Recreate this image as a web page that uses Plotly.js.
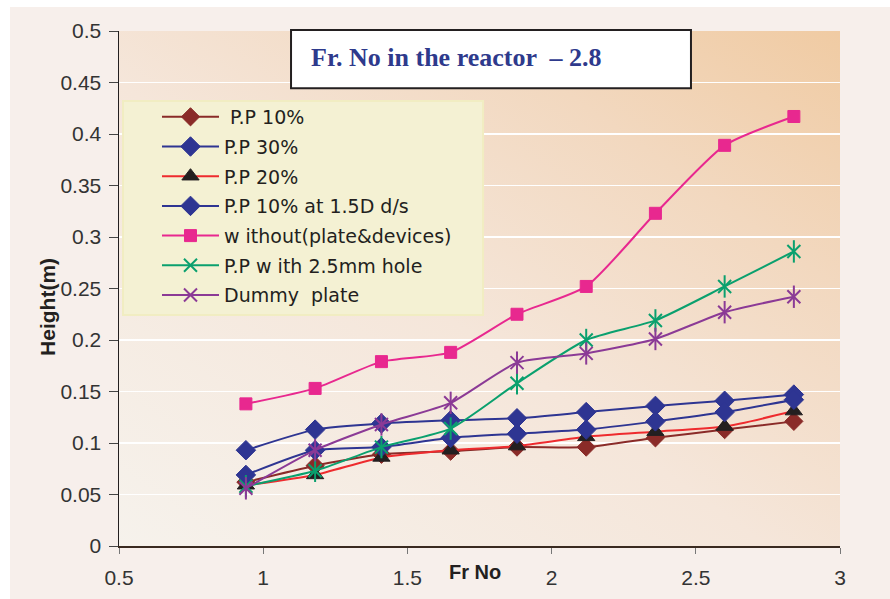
<!DOCTYPE html>
<html>
<head>
<meta charset="utf-8">
<script src="https://cdn.plot.ly/plotly-3.0.1.min.js"></script>
<style>
  html, body { margin: 0; padding: 0; background: #ffffff; }
  #wrap { position: absolute; left: 10px; top: 7px; width: 880px; height: 592px; background: #f7efeb; }
  #bg { position: absolute; left: 119px; top: 31px; width: 721px; height: 515px;
        background: linear-gradient(to top right, #f6f2ec 0%, #f5e6da 45%, #f2d8bf 75%, #f0cba3 100%); }
  #chart { position: absolute; left: 0; top: 0; width: 890px; height: 599px; }
</style>
</head>
<body>
<div id="wrap"></div>
<div id="bg"></div>
<div id="chart"></div>
<script>
const frNo = [0.94, 1.18, 1.41, 1.65, 1.88, 2.12, 2.36, 2.60, 2.84];
const pp10 = [0.062, 0.078, 0.089, 0.092, 0.096, 0.096, 0.105, 0.113, 0.121];
const pp30 = [0.093, 0.113, 0.119, 0.122, 0.124, 0.130, 0.136, 0.141, 0.147];
const pp20 = [0.059, 0.069, 0.086, 0.093, 0.097, 0.106, 0.111, 0.116, 0.131];
const pp10at15D = [0.069, 0.093, 0.096, 0.105, 0.109, 0.113, 0.121, 0.130, 0.142];
const withoutPlate = [0.138, 0.153, 0.179, 0.188, 0.225, 0.252, 0.323, 0.389, 0.417];
const ppHole = [0.058, 0.073, 0.096, 0.114, 0.158, 0.200, 0.219, 0.252, 0.286];
const dummyPlate = [0.056, 0.093, 0.118, 0.139, 0.178, 0.187, 0.201, 0.227, 0.242];

const names = [" P.P 10%", "P.P 30%", "P.P 20%", "P.P 10% at 1.5D d/s", "w ithout(plate&devices)", "P.P w ith 2.5mm hole", "Dummy  plate"];
const xTicks = [0.5, 1, 1.5, 2, 2.5, 3];
const xTickText = ["0.5", "1", "1.5", "2", "2.5", "3"];
const yTicks = [0, 0.05, 0.1, 0.15, 0.2, 0.25, 0.3, 0.35, 0.4, 0.45, 0.5];
const yTickText = ["0", "0.05", "0.1", "0.15", "0.2", "0.25", "0.3", "0.35", "0.4", "0.45", "0.5"];

function tr(name, y, lineColor, sym, mColor, mSize, extra) {
  return Object.assign({
    x: frNo, y: y, name: name, type: 'scatter', mode: 'lines+markers',
    line: { color: lineColor, width: 2, shape: 'spline', smoothing: 0.6 },
    marker: { symbol: sym, color: mColor, size: mSize, line: { color: mColor, width: 1 } },
    legendgroup: name
  }, extra || {});
}

const data = [
  tr(names[0], pp10, '#8a2b28', 'diamond', '#8a2b28', 14),
  tr(names[1], pp30, '#2e3592', 'diamond', '#2e3592', 15),
  tr(names[2], pp20, '#ee2b2e', 'triangle-up', '#231f20', 15),
  tr(names[3], pp10at15D, '#2e3592', 'diamond', '#2e3592', 15),
  tr(names[4], withoutPlate, '#e8288f', 'square', '#e8288f', 12),
  tr(names[5], ppHole, '#0aa06e', 'x-thin-open', '#0aa06e', 13, {marker: {symbol: 'x-thin-open', color: '#0aa06e', size: 13, line: {color: '#0aa06e', width: 2}}}),
  tr(names[5], ppHole, '#0aa06e', 'line-ns-open', '#0aa06e', 15, {mode: 'markers', showlegend: false, marker: {symbol: 'line-ns-open', color: '#0aa06e', size: 16, line: {color: '#0aa06e', width: 2}}}),
  tr(names[6], dummyPlate, '#8b3a96', 'x-thin-open', '#8b3a96', 13, {marker: {symbol: 'x-thin-open', color: '#8b3a96', size: 13, line: {color: '#8b3a96', width: 2}}}),
  tr(names[6], dummyPlate, '#8b3a96', 'line-ns-open', '#8b3a96', 15, {mode: 'markers', showlegend: false, marker: {symbol: 'line-ns-open', color: '#8b3a96', size: 16, line: {color: '#8b3a96', width: 2}}})
];

const layout = {
  width: 890, height: 599,
  margin: { l: 119, r: 50, t: 31, b: 53 },
  paper_bgcolor: 'rgba(0,0,0,0)',
  plot_bgcolor: 'rgba(0,0,0,0)',
  font: { family: 'Liberation Sans, Arial, sans-serif', color: '#222' },
  showlegend: true,
  legend: {
    x: 0.0527, y: 0.870, xanchor: 'left', yanchor: 'top',
    bgcolor: 'rgba(0,0,0,0)', borderwidth: 0,
    font: { size: 19, color: '#231f20', family: 'DejaVu Sans, sans-serif' },
    itemwidth: 57, tracegroupgap: 2
  },
  xaxis: {
    range: [0.5, 3], tickvals: xTicks, ticktext: xTickText,
    showgrid: false, zeroline: false,
    showline: true, linecolor: '#3a2a20', linewidth: 2,
    ticks: 'outside', ticklen: 6, tickcolor: '#777', tickwidth: 1,
    tickfont: { size: 21, color: '#333' }, ticklabelstandoff: 6
  },
  yaxis: {
    range: [0, 0.5], tickvals: yTicks, ticktext: yTickText,
    showgrid: true, gridcolor: '#ffffff', gridwidth: 1.5,
    zeroline: false,
    showline: true, linecolor: '#231f20', linewidth: 1.5,
    ticks: 'outside', ticklen: 9, tickcolor: '#444', tickwidth: 1,
    tickfont: { size: 21, color: '#333' }, ticklabelstandoff: 3
  },
  shapes: [
    { type: 'rect', xref: 'paper', yref: 'paper', x0: 0.00555, x1: 0.5049, y0: 0.4485, y1: 0.8641,
      fillcolor: '#f4f1d3', line: { color: '#f1edc2', width: 2 }, layer: 'above' },
    { type: 'rect', xref: 'paper', yref: 'paper', x0: 0.2386, x1: 0.7933, y0: 0.889, y1: 1.002,
      fillcolor: '#ffffff', line: { color: '#231f20', width: 2 }, layer: 'above' }
  ],
  annotations: [
    { text: 'Fr. No in the reactor  \u2013 2.8', xref: 'paper', yref: 'paper', x: 0.2635, y: 0.9476,
      xanchor: 'left', yanchor: 'middle', showarrow: false,
      font: { family: 'Liberation Serif, Times New Roman, serif', size: 26, color: '#2e3a8c', weight: 'bold' } },
    { text: '<b>Fr No</b>', xref: 'paper', yref: 'paper', x: 0.494, y: -0.05,
      xanchor: 'center', yanchor: 'middle', showarrow: false,
      font: { size: 20, color: '#231f20' } },
    { text: '<b>Height(m)</b>', xref: 'paper', yref: 'paper', x: -0.1, y: 0.464,
      xanchor: 'center', yanchor: 'middle', showarrow: false, textangle: -90,
      font: { size: 21, color: '#231f20' } }
  ]
};

Plotly.newPlot('chart', data, layout, { displayModeBar: false, staticPlot: true });
</script>
</body>
</html>
